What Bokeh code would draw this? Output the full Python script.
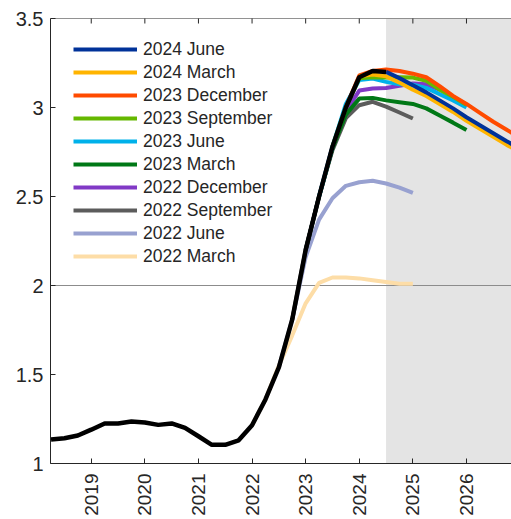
import math
from bokeh.plotting import figure
from bokeh.models import (Range1d, FixedTicker, BoxAnnotation, Span, Legend, LegendItem)
from bokeh.embed import file_html
from bokeh.resources import INLINE

# ---------------- data ----------------
step = 0.25  # quarterly observations

hist_start = 2018.25
hist_values = [1.135, 1.142, 1.157, 1.19, 1.225, 1.225, 1.236, 1.23, 1.217, 1.225,
               1.20, 1.153, 1.105, 1.105, 1.13, 1.215, 1.36, 1.54, 1.81, 2.2,
               2.5, 2.78, 3.0, 3.17, 3.205, 3.20]

mar22_start = 2022.0
mar22 = [1.215, 1.36, 1.55, 1.72, 1.90, 2.015, 2.045, 2.045, 2.04, 2.03, 2.02, 2.01, 2.01]

jun22_start = 2022.5
jun22 = [1.54, 1.81, 2.16, 2.37, 2.49, 2.56, 2.58, 2.588, 2.573, 2.55, 2.52]

sep22_start = 2022.75
sep22 = [1.81, 2.2, 2.5, 2.76, 2.94, 3.013, 3.032, 3.005, 2.972, 2.938]

dec22_start = 2023.0
dec22 = [2.2, 2.5, 2.78, 2.98, 3.095, 3.107, 3.11, 3.122, 3.135, 3.13, 3.10]

mar23_start = 2023.0
mar23 = [2.2, 2.5, 2.77, 2.96, 3.05, 3.054, 3.04, 3.03, 3.02, 2.995, 2.955, 2.915, 2.873]

jun23_start = 2023.25
jun23 = [2.5, 2.78, 3.02, 3.154, 3.163, 3.144, 3.13, 3.128, 3.11, 3.075, 3.04, 3.0]

sep23_start = 2023.5
sep23 = [2.78, 3.0, 3.165, 3.17, 3.168, 3.17, 3.168, 3.15, 3.10, 3.06, 3.015]

dec23_start = 2023.75
dec23 = [3.0, 3.18, 3.205, 3.213, 3.205, 3.19, 3.17, 3.12, 3.065, 3.02, 2.97, 2.92,
         2.875, 2.83]

mar24_start = 2024.0
mar24 = [3.175, 3.185, 3.175, 3.14, 3.10, 3.065, 3.02, 2.975, 2.925, 2.88, 2.835,
         2.79, 2.75]

jun24_start = 2024.5
jun24 = [3.20, 3.165, 3.125, 3.085, 3.04, 2.995, 2.945, 2.90, 2.855, 2.81, 2.77]

labels = ["2024 June", "2024 March", "2023 December", "2023 September", "2023 June",
          "2023 March", "2022 December", "2022 September", "2022 June", "2022 March"]
colors = ["#003299", "#FFB400", "#FF4B00", "#65B800", "#00B1EA",
          "#007816", "#8139C6", "#5C5C5C", "#98A1D0", "#FDDDA7"]
starts = [jun24_start, mar24_start, dec23_start, sep23_start, jun23_start,
          mar23_start, dec22_start, sep22_start, jun22_start, mar22_start]
vintages = [jun24, mar24, dec23, sep23, jun23, mar23, dec22, sep22, jun22, mar22]

x_ticks = [2019, 2020, 2021, 2022, 2023, 2024, 2025, 2026]
x_tick_labels = ["2019", "2020", "2021", "2022", "2023", "2024", "2025", "2026"]
y_ticks = [1, 1.5, 2, 2.5, 3, 3.5]
y_tick_labels = ["1", "1.5", "2", "2.5", "3", "3.5"]

x_min, x_max = 2018.24, 2026.84
y_min, y_max = 1, 3.5
target_level = 2
projection_start = 2024.5

# ---------------- figure ----------------
FONT = "Liberation Sans"
TXT = "#262626"

p = figure(width=511, height=519, output_backend="svg", toolbar_location=None,
           x_range=Range1d(x_min, x_max), y_range=Range1d(y_min, y_max),
           min_border_left=50, min_border_right=0, min_border_top=18,
           min_border_bottom=56, background_fill_color="white",
           border_fill_color="white")
p.outline_line_color = None
p.grid.visible = False

def style_axis(ax):
    ax.axis_line_color = TXT
    ax.axis_line_width = 1
    ax.major_tick_line_color = TXT
    ax.major_tick_in = 5
    ax.major_tick_out = 0
    ax.minor_tick_line_color = None
    ax.major_label_text_font = FONT
    ax.major_label_text_color = TXT

xa = p.xaxis[0]
xa.ticker = FixedTicker(ticks=x_ticks)
xa.major_label_overrides = dict(zip(x_ticks, x_tick_labels))
style_axis(xa)
xa.major_label_text_font_size = "19px"
xa.major_label_orientation = math.pi / 2
xa.major_label_standoff = 10

ya = p.yaxis[0]
ya.ticker = FixedTicker(ticks=y_ticks)
ya.major_label_overrides = dict(zip(y_ticks, y_tick_labels))
style_axis(ya)
ya.major_label_text_font_size = "20px"
ya.major_label_standoff = 7

# shading, target line, top border with inward ticks
p.add_layout(BoxAnnotation(left=projection_start, fill_color="#E4E4E4", fill_alpha=1.0,
                           line_color=None, level="underlay"))
p.add_layout(Span(location=target_level, dimension="width", line_color="#8C8C8C",
                  line_width=1, level="underlay"))
p.add_layout(Span(location=y_max, dimension="width", line_color=TXT, line_width=1))
p.scatter(x=x_ticks, y=[y_max] * len(x_ticks), marker="dash", angle=math.pi / 2,
          size=10, line_color=TXT, line_width=1)

renderers = {}
for lab, col, st, vals in reversed(list(zip(labels, colors, starts, vintages))):
    xs = [st + step * i for i in range(len(vals))]
    renderers[lab] = p.line(xs, vals, line_color=col, line_width=4)

hx = [hist_start + step * i for i in range(len(hist_values))]
p.line(hx, hist_values, line_color="black", line_width=4.5)

legend = Legend(items=[LegendItem(label=l, renderers=[renderers[l]]) for l in labels],
                location=(23, 196), orientation="vertical")
legend.background_fill_alpha = 0
legend.border_line_color = None
legend.padding = 0
legend.margin = 0
legend.spacing = 1
legend.glyph_width = 64
legend.glyph_height = 22
legend.label_height = 22
legend.label_standoff = 6
legend.label_text_font = FONT
legend.label_text_font_size = "17.5px"
legend.label_text_color = TXT
p.add_layout(legend, "center")

open("out.html", "w").write(file_html(p, INLINE))
